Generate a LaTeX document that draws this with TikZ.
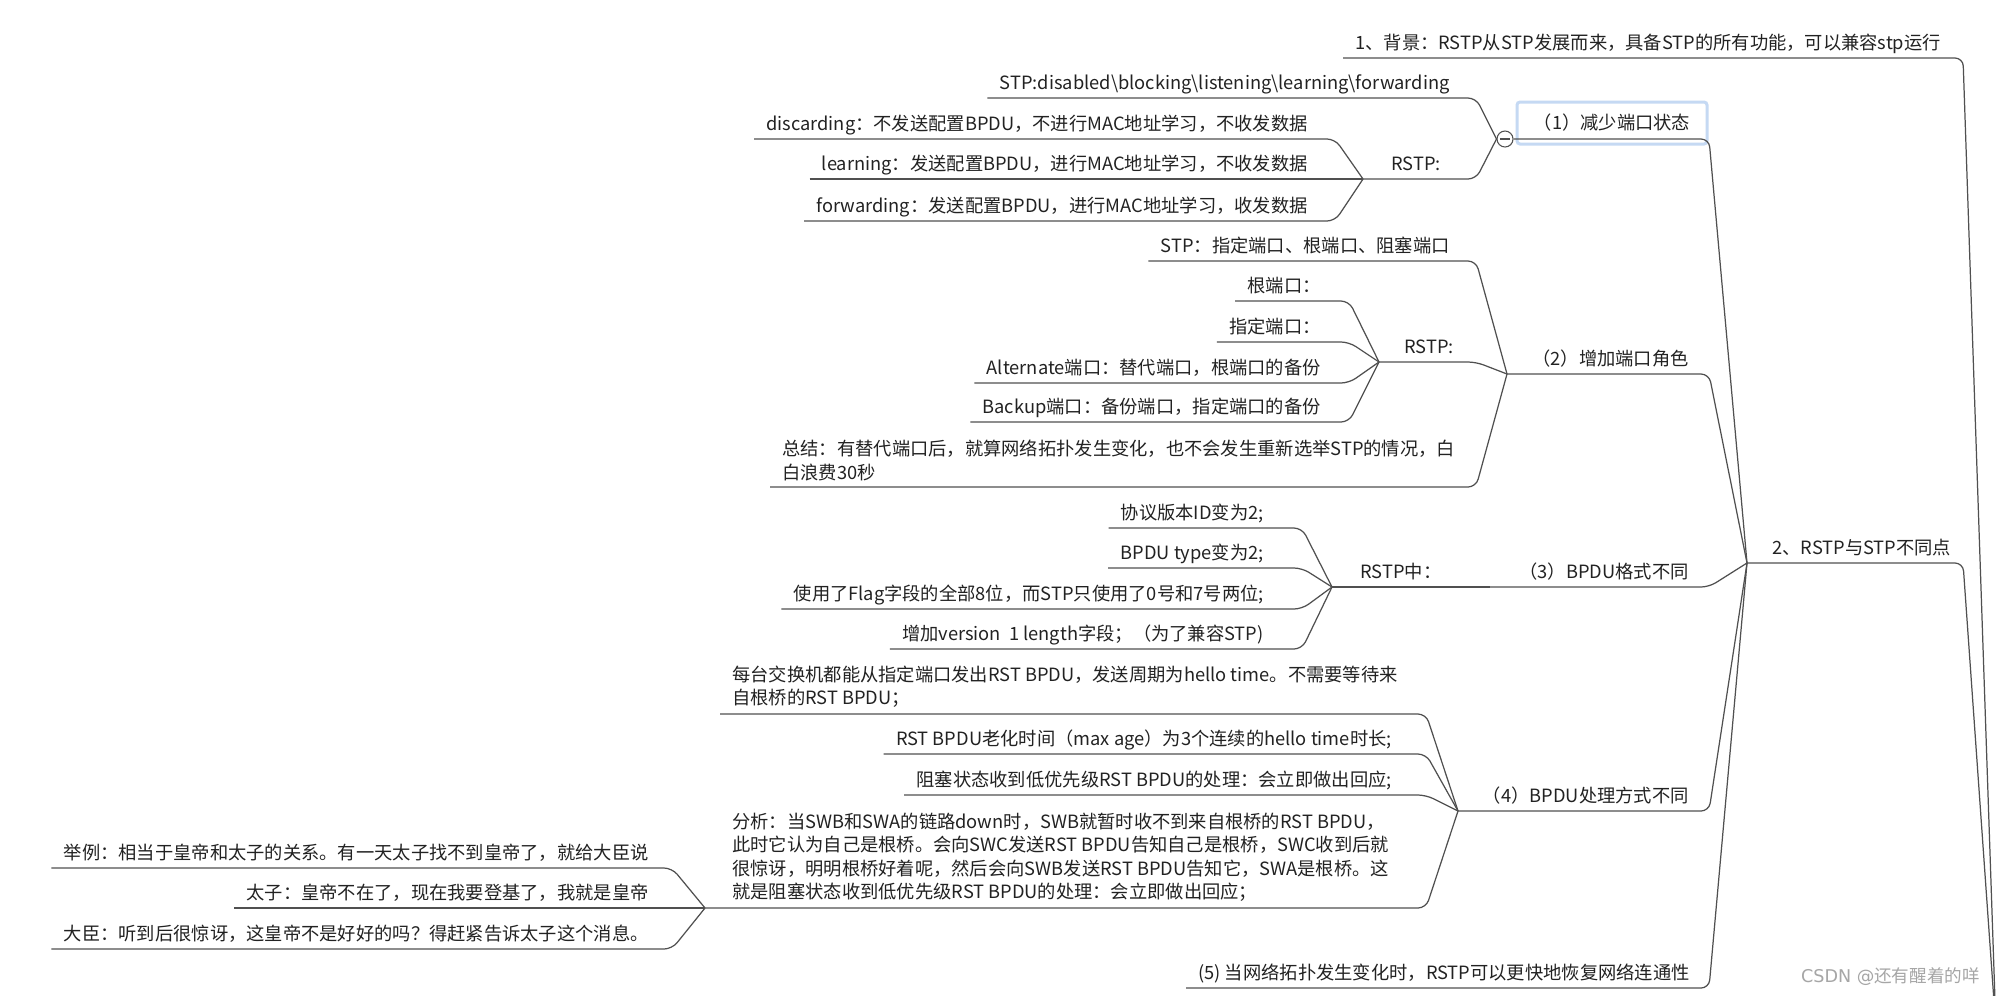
\documentclass[tikz,border=0pt]{standalone}
\usepackage{fontspec}
\setmainfont{Noto Sans CJK SC}
\newfontfamily\markfont{DejaVu Sans}
\definecolor{linec}{HTML}{505050}
\definecolor{textc}{HTML}{222222}
\definecolor{selc}{HTML}{C5D9F3}
\definecolor{markc}{HTML}{A6A6A6}
\tikzset{
    leaf/.style={inner xsep=2.4mm, inner ysep=1.6mm, text depth=0pt},
    para/.style={inner xsep=2.4mm, inner ysep=1.2mm, align=left},
    branch/.style={draw=linec, line width=0.7pt, rounded corners=1.6mm},
    selbox/.style={draw=selc, line width=0.6mm, rounded corners=0.6mm,
        minimum width=38mm, minimum height=8.4mm, inner sep=0pt},
    fold/.style={circle, draw=linec, fill=white, line width=0.6pt,
        minimum size=3.2mm, inner sep=0pt},
}

\begin{document}
\begin{tikzpicture}[x=0.2mm, y=-0.2mm, text=textc,
    font=\fontsize{10.4pt}{13.4pt}\selectfont]
    \fill[white] (0,0) rectangle (1997,995);
    \useasboundingbox (0,0) rectangle (1997,995);

    \coordinate (rootJ) at (1996,1030);
    \coordinate (rootK) at (1963,1030);
    \coordinate (difJ) at (1747,563);
    \coordinate (difK) at (1709,563);
    \coordinate (foldK) at (1476,139);
    \coordinate (rstpAJ) at (1363,179);
    \coordinate (rstpAK) at (1335,179);
    \coordinate (roleJ) at (1507,374);
    \coordinate (roleK) at (1476,374);
    \coordinate (rstpBJ) at (1379,362);
    \coordinate (rstpBK) at (1349,362);
    \coordinate (fmtJ) at (1490,587);
    \coordinate (rstpCJ) at (1332,587);
    \coordinate (rstpCK) at (1302,587);
    \coordinate (prcJ) at (1458,811);
    \coordinate (prcK) at (1426,811);
    \coordinate (anaJ) at (705,908);
    \coordinate (anaK) at (672,908);

    \node[leaf, anchor=south west] (bg) at (1343,58)
        {1、背景：RSTP从STP发展而来，具备STP的所有功能，可以兼容stp运行};
    \node[leaf, anchor=south west] (dif) at (1760,563) {2、RSTP与STP不同点};

    % (1)
    \node[selbox] (st) at (1612,123) {（1）减少端口状态};
    \node[fold] (fold) at (1505,139) {};
    \node[leaf, anchor=south east] (stpA) at (1462,98)
        {STP:disabled\textbackslash blocking\textbackslash listening\textbackslash learning\textbackslash forwarding};
    \node[leaf, anchor=south west] (rstpA) at (1379,179) {RSTP:};
    \node[leaf, anchor=south east] (disc) at (1320,139)
        {discarding：不发送配置BPDU，不进行MAC地址学习，不收发数据};
    \node[leaf, anchor=south east] (lrn) at (1320,179)
        {learning：发送配置BPDU，进行MAC地址学习，不收发数据};
    \node[leaf, anchor=south east] (fwd) at (1320,221)
        {forwarding：发送配置BPDU，进行MAC地址学习，收发数据};

    % (2)
    \node[leaf, anchor=south east] (role) at (1701,374) {（2）增加端口角色};
    \node[leaf, anchor=south east] (stpB) at (1462,261) {STP：指定端口、根端口、阻塞端口};
    \node[leaf, anchor=south west] (rstpB) at (1392,362) {RSTP:};
    \node[leaf, anchor=south east] (rp) at (1333,301) {根端口：};
    \node[leaf, anchor=south east] (dp) at (1333,342) {指定端口：};
    \node[leaf, anchor=south east] (ap) at (1333,383) {Alternate端口：替代端口，根端口的备份};
    \node[leaf, anchor=south east] (bp) at (1333,422) {Backup端口：备份端口，指定端口的备份};
    \node[para, anchor=south west] (sum) at (770,487)
        {总结：有替代端口后，就算网络拓扑发生变化，也不会发生重新选举STP的情况，白\\白浪费30秒};

    % (3)
    \node[leaf, anchor=south east] (fmt) at (1701,587) {（3）BPDU格式不同};
    \node[leaf, anchor=south west] (rstpC) at (1348,587) {RSTP中：};
    \node[leaf, anchor=south east] (ver) at (1276,528) {协议版本ID变为2;};
    \node[leaf, anchor=south east] (typ) at (1276,568) {BPDU type变为2;};
    \node[leaf, anchor=south east] (flg) at (1276,609)
        {使用了Flag字段的全部8位，而STP只使用了0号和7号两位;};
    \node[leaf, anchor=south east] (len) at (1276,649) {增加version~~1 length字段；（为了兼容STP)};

    % (4)
    \node[leaf, anchor=south east] (prc) at (1701,811) {（4）BPDU处理方式不同};
    \node[para, anchor=south west] (hel) at (720,714)
        {每台交换机都能从指定端口发出RST BPDU，发送周期为hello time。不需要等待来\\自根桥的RST BPDU；};
    \node[leaf, anchor=south east] (age) at (1404,754)
        {RST BPDU老化时间（max age）为3个连续的hello time时长;};
    \node[leaf, anchor=south east] (blk) at (1404,795)
        {阻塞状态收到低优先级RST BPDU的处理：会立即做出回应;};
    \node[para, anchor=south west] (ana) at (720,908)
        {分析：当SWB和SWA的链路down时，SWB就暂时收不到来自根桥的RST BPDU，\\
         此时它认为自己是根桥。会向SWC发送RST BPDU告知自己是根桥，SWC收到后就\\
         很惊讶，明明根桥好着呢，然后会向SWB发送RST BPDU告知它，SWA是根桥。这\\
         就是阻塞状态收到低优先级RST BPDU的处理：会立即做出回应；};
    \node[leaf, anchor=south east] (ex) at (661,868)
        {举例：相当于皇帝和太子的关系。有一天太子找不到皇帝了，就给大臣说};
    \node[leaf, anchor=south east] (tz) at (661,908) {太子：皇帝不在了，现在我要登基了，我就是皇帝};
    \node[leaf, anchor=south east] (dc) at (661,949)
        {大臣：听到后很惊讶，这皇帝不是好好的吗？得赶紧告诉太子这个消息。};

    % (5)
    \node[leaf, anchor=south east] (fast) at (1702,988)
        {(5) 当网络拓扑发生变化时，RSTP可以更快地恢复网络连通性};

    \node[anchor=east, text=markc, font=\fontsize{10pt}{12pt}\selectfont] (mark) at (1986,977)
        {{\markfont CSDN @}还有醒着的咩};

    % branches
    \draw[branch] (bg.south west) -- (bg.south west -| rootK) -- (rootJ);
    \draw[branch] (difJ) -- (difJ -| rootK) -- (rootJ);
    \draw[branch] (fold.east) -- (fold.east -| difK) -- (difJ);
    \draw[branch] (roleJ) -- (roleJ -| difK) -- (difJ);
    \draw[branch] (fmtJ) -- (fmtJ -| difK) -- (difJ);
    \draw[branch] (prcJ) -- (prcJ -| difK) -- (difJ);
    \draw[branch] (fast.south west) -- (fast.south west -| difK) -- (difJ);

    \draw[branch] (stpA.south west) -- (stpA.south west -| foldK) -- (fold.west);
    \draw[branch] (rstpAJ) -- (rstpAJ -| foldK) -- (fold.west);
    \foreach \n in {disc,lrn,fwd}
        \draw[branch] (\n.south west) -- (\n.south west -| rstpAK) -- (rstpAJ);

    \draw[branch] (stpB.south west) -- (stpB.south west -| roleK) -- (roleJ);
    \draw[branch] (rstpBJ) -- (rstpBJ -| roleK) -- (roleJ);
    \draw[branch] (sum.south west) -- (sum.south west -| roleK) -- (roleJ);
    \foreach \n in {rp,dp,ap,bp}
        \draw[branch] (\n.south west) -- (\n.south west -| rstpBK) -- (rstpBJ);

    \draw[branch] (rstpCJ) -- (fmtJ);
    \foreach \n in {ver,typ,flg,len}
        \draw[branch] (\n.south west) -- (\n.south west -| rstpCK) -- (rstpCJ);

    \foreach \n in {hel,age,blk}
        \draw[branch] (\n.south west) -- (\n.south west -| prcK) -- (prcJ);
    \draw[branch] (anaJ) -- (anaJ -| prcK) -- (prcJ);
    \foreach \n in {ex,tz,dc}
        \draw[branch] (\n.south west) -- (\n.south west -| anaK) -- (anaJ);

    \draw[linec, line width=0.6pt] ([xshift=-1mm]fold.center) -- ([xshift=1mm]fold.center);
\end{tikzpicture}
\end{document}
